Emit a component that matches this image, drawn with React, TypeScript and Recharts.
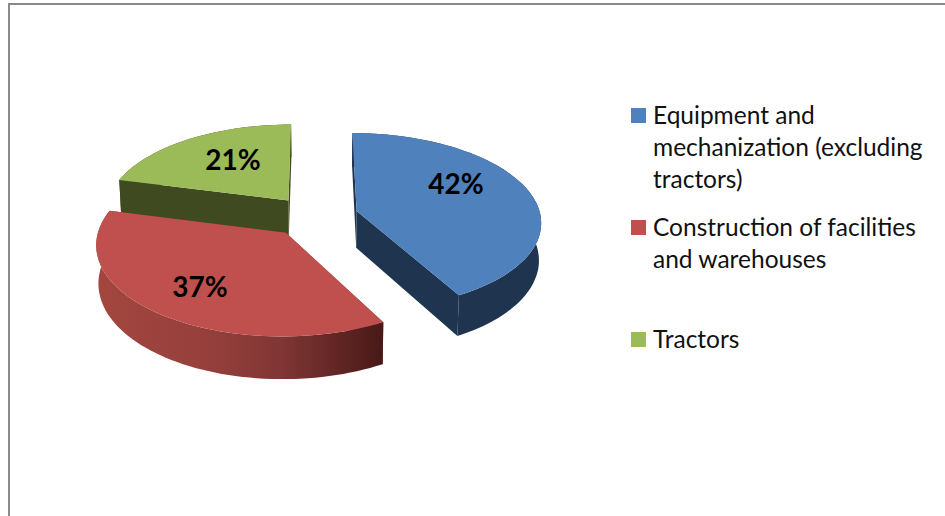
import { PieChart, Pie, Legend } from "recharts";

const categories = [
  "Equipment and mechanization (excluding tractors)",
  "Construction of facilities and warehouses",
  "Tractors",
];
const shares = [42, 37, 21];
const topColors = ["#4f81bd", "#c0504d", "#9bbb59"];
const wallColors = ["#1f344f", "#7a3432", "#404a20"];
const rimFills = ["#1f344f", "url(#redRim)", "#404a20"];

// back to front, so that the red slice sits over the green wall
const drawOrder = [2, 0, 1];

// where the labels sit on the pie plane, in radii from the centre
const labelSpots = [
  { u: 0.8, v: -0.39 },
  { u: -0.573, v: 0.731 },
  { u: -0.481, v: -0.7 },
];
// small extra shift of each slice on top of the regular explosion
const sliceNudges = [
  { u: 0.005, v: 0 },
  { u: -0.014, v: 0.006 },
  { u: -0.006, v: 0 },
];
const legendTops = [99, 211, 323];

const FONT = "Lato, Carlito, sans-serif";
const TILT = 0.477; // flattening of the pie plane
const PERSPECTIVE = 0.113;
const EXPLODE = 0.23;
const DEPTH = 37;
const BOTTOM_SCALE = 0.99;

const pieData = drawOrder.map((i) => ({
  name: categories[i],
  value: shares[i],
  fill: topColors[i],
  series: i,
}));

// the pie starts at 12 o'clock with Equipment, Tractors is the last slice before it
const firstAngle = 90 + (360 * shares[2]) / shares.reduce((a, b) => a + b, 0);

function project(cx: number, cy: number, r: number, u: number, v: number, drop = 0) {
  const w = 1 - PERSPECTIVE * v;
  const sx = drop ? BOTTOM_SCALE : 1;
  return [cx + (sx * r * u) / w, cy + (r * TILT * v) / w + drop / w];
}

function toPath(points: number[][]) {
  return "M" + points.map((p) => `${p[0].toFixed(1)},${p[1].toFixed(1)}`).join("L") + "Z";
}

function Slice3D(props: any) {
  const { cx, cy, outerRadius: r, startAngle, endAngle, payload } = props;
  const i = payload.series;
  const mid = (((startAngle + endAngle) / 2) * Math.PI) / 180;
  const du = EXPLODE * Math.cos(mid) + sliceNudges[i].u;
  const dv = -EXPLODE * Math.sin(mid) + sliceNudges[i].v;

  const steps = Math.ceil(Math.abs(endAngle - startAngle) / 2);
  const arc: number[][] = [];
  for (let s = 0; s <= steps; s++) {
    const a = ((startAngle + ((endAngle - startAngle) * s) / steps) * Math.PI) / 180;
    arc.push([du + Math.cos(a), dv - Math.sin(a)]);
  }
  const at = (p: number[], drop = 0) => project(cx, cy, r, p[0], p[1], drop);
  const apex = [du, dv];
  const first = arc[0];
  const last = arc[arc.length - 1];

  const top = toPath([at(apex), ...arc.map((p) => at(p))]);
  const rim = toPath([...arc.map((p) => at(p)), ...arc.map((p) => at(p, DEPTH)).reverse()]);
  const wallA = toPath([at(apex), at(first), at(first, DEPTH), at(apex, DEPTH)]);
  const wallB = toPath([at(apex), at(last), at(last, DEPTH), at(apex, DEPTH)]);

  return (
    <g>
      <path d={wallA} fill={wallColors[i]} />
      <path d={wallB} fill={wallColors[i]} />
      <path d={rim} fill={rimFills[i]} />
      <path d={top} fill={topColors[i]} />
    </g>
  );
}

function SliceLabel(props: any) {
  const { cx, cy, outerRadius, payload, percent } = props;
  const spot = labelSpots[payload.series];
  const [x, y] = project(cx, cy, outerRadius, spot.u, spot.v);
  return (
    <text
      x={x}
      y={y}
      textAnchor="middle"
      dominantBaseline="central"
      fontFamily={FONT}
      fontWeight={700}
      fontSize={28}
      fill="#000"
    >
      {`${Math.round(percent * 100)}%`}
    </text>
  );
}

function SideLegend() {
  return (
    <div style={{ position: "relative", width: 315, height: 300, fontFamily: FONT }}>
      {categories.map((name, i) => (
        <div
          key={name}
          style={{
            position: "absolute",
            top: legendTops[i] - 99,
            left: 0,
            width: 305,
            paddingLeft: 22,
            boxSizing: "border-box",
            fontSize: 24.5,
            lineHeight: "32px",
            color: "#111",
          }}
        >
          <span
            style={{
              position: "absolute",
              left: 0,
              top: 9,
              width: 15,
              height: 15,
              background: topColors[i],
            }}
          />
          {name}
        </div>
      ))}
    </div>
  );
}

export default function App() {
  return (
    <div
      style={{
        position: "absolute",
        left: 0,
        top: 0,
        width: 945,
        height: 516,
        overflow: "hidden",
        background: "#fff",
      }}
    >
      <div
        style={{
          position: "absolute",
          left: 8,
          top: 3,
          width: 945,
          height: 520,
          borderLeft: "2px solid #8a8a8a",
          borderTop: "2px solid #8a8a8a",
        }}
      />
      <PieChart width={945} height={516} margin={{ top: 0, right: 0, bottom: 0, left: 0 }}>
        <defs>
          <linearGradient id="redRim" gradientUnits="userSpaceOnUse" x1="100" y1="0" x2="380" y2="0">
            <stop offset="0" stopColor="#a3463f" />
            <stop offset="0.4" stopColor="#953f3c" />
            <stop offset="0.65" stopColor="#7f3634" />
            <stop offset="1" stopColor="#4a1a18" />
          </linearGradient>
        </defs>
        <Pie
          data={pieData}
          dataKey="value"
          nameKey="name"
          cx={315}
          cy={216}
          innerRadius={0}
          outerRadius={184}
          startAngle={firstAngle}
          endAngle={firstAngle - 360}
          stroke="none"
          shape={Slice3D}
          label={SliceLabel}
          labelLine={false}
          isAnimationActive={false}
        />
        <Legend
          content={() => <SideLegend />}
          layout="vertical"
          wrapperStyle={{ position: "absolute", left: 631, top: 99, width: 315 }}
        />
      </PieChart>
    </div>
  );
}
